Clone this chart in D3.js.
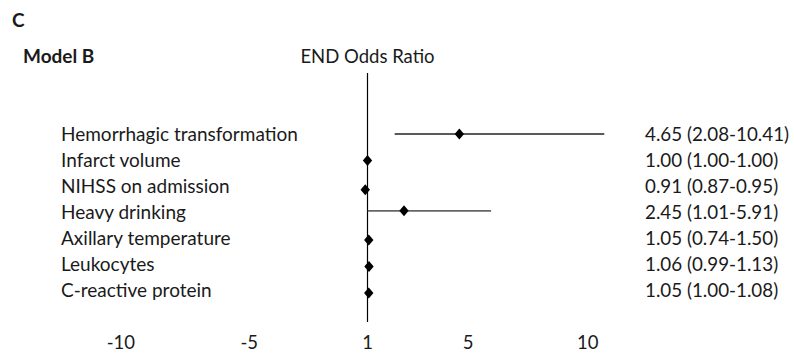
<!DOCTYPE html>
<html>
<head>
<meta charset="utf-8">
<script src="https://cdn.jsdelivr.net/npm/d3@7"></script>
<style>
  body { margin: 0; background: #fff; }
  text { font-family: Lato, "Open Sans", sans-serif; fill: #1a1a1a; }
</style>
</head>
<body>
<div id="chart"></div>
<script>
// Variables, odds ratios and 95% CI
let variables = ["Hemorrhagic transformation", "Infarct volume", "NIHSS on admission",
    "Heavy drinking", "Axillary temperature", "Leukocytes", "C-reactive protein"];
let oddsRatio = [4.65, 1.00, 0.91, 2.45, 1.05, 1.06, 1.05];
let ciLow = [2.08, 1.00, 0.87, 1.01, 0.74, 0.99, 1.00];
let ciHigh = [10.41, 1.00, 0.95, 5.91, 1.50, 1.13, 1.08];
// vertical position of each marker (row 7 at top)
let rowY = [7, 6, 4.9, 4.1, 3, 2, 1];
// tick labels along the bottom and where they sit on the OR axis
let tickLabels = ["-10", "-5", "1", "5", "10"];
let tickAt = [-8.8, -3.7, 1, 5, 9.75];

let w = 794;
let h = 360;

let svg = d3.select("#chart")
    .append("svg")
    .attr("width", w)
    .attr("height", h);

let x = d3.scaleLinear().domain([1, 10]).range([367.5, 594]);
let y = d3.scaleLinear().domain([1, 7]).range([293, 134]);
let rowText = d3.scaleLinear().domain([0, 6]).range([141, 297]);

// titles
svg.append("text")
    .attr("x", 12).attr("y", 27)
    .attr("font-weight", "bold").attr("font-size", 19)
    .text("C");
svg.append("text")
    .attr("x", 23).attr("y", 63)
    .attr("font-weight", "bold").attr("font-size", 19)
    .text("Model B");
svg.append("text")
    .attr("x", x(1)).attr("y", 63)
    .attr("text-anchor", "middle").attr("font-size", 18.5)
    .text("END Odds Ratio");

// reference line at OR = 1
svg.append("line")
    .attr("x1", x(1)).attr("x2", x(1))
    .attr("y1", 73).attr("y2", 322)
    .attr("stroke", "#000").attr("stroke-width", 1.2);

let idx = d3.range(variables.length);

// confidence intervals
svg.selectAll("line.ci")
    .data(idx.filter(i => ciHigh[i] - ciLow[i] > 0.9))
    .join("line")
    .attr("class", "ci")
    .attr("x1", i => x(ciLow[i]))
    .attr("x2", i => x(ciHigh[i]))
    .attr("y1", i => y(rowY[i]))
    .attr("y2", i => y(rowY[i]))
    .attr("stroke", i => i == 0 ? "#222" : "#666")
    .attr("stroke-width", i => i == 0 ? 1.3 : 1.6);

// diamonds
svg.selectAll("path.pt")
    .data(idx)
    .join("path")
    .attr("class", "pt")
    .attr("d", "M0,-5.5L4.7,0L0,5.5L-4.7,0Z")
    .attr("transform", i => `translate(${x(oddsRatio[i])},${y(rowY[i])})`)
    .attr("fill", "#000");

// variable names
svg.selectAll("text.var")
    .data(idx)
    .join("text")
    .attr("class", "var")
    .attr("x", 61)
    .attr("y", i => rowText(i))
    .attr("font-size", 19)
    .text(i => variables[i]);

// OR (CI) labels
svg.selectAll("text.or")
    .data(idx)
    .join("text")
    .attr("class", "or")
    .attr("x", 645)
    .attr("y", i => rowText(i))
    .attr("font-size", 18.8)
    .text(i => `${oddsRatio[i].toFixed(2)} (${ciLow[i].toFixed(2)}-${ciHigh[i].toFixed(2)})`);

// bottom tick labels
svg.selectAll("text.tick")
    .data(tickLabels)
    .join("text")
    .attr("class", "tick")
    .attr("x", (d, i) => x(tickAt[i]))
    .attr("y", 349)
    .attr("text-anchor", "middle")
    .attr("font-size", 18.5)
    .text(d => d);
</script>
</body>
</html>
